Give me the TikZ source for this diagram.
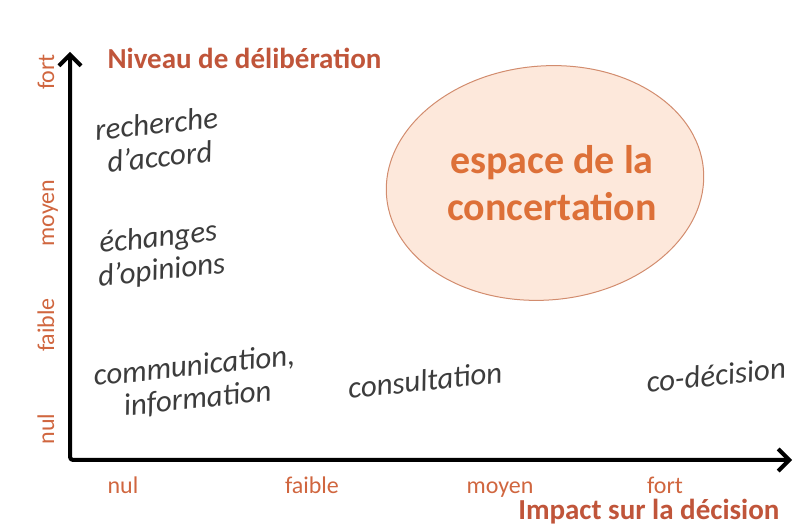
\documentclass[tikz,border=0pt]{standalone}
\usepackage{fontspec}
\setmainfont{Carlito}
\usetikzlibrary{arrows.meta,shapes.geometric}
\definecolor{titleorange}{HTML}{C0553A}
\definecolor{tickorange}{HTML}{D0663F}
\definecolor{bubbletext}{HTML}{DD7038}
\definecolor{bubblefill}{HTML}{FDE8DB}
\definecolor{bubbleline}{HTML}{D28C6E}
\definecolor{textgray}{HTML}{3C3C3C}
\begin{document}
\begin{tikzpicture}[x=1pt,y=1pt,>={Straight Barb[length=11pt,width=22pt,line width=4pt]},
    line join=round, line cap=round,
    axtitle/.style={text=titleorange,font=\fontsize{29}{29}\selectfont\bfseries},
    tick/.style={text=tickorange,font=\fontsize{24}{24}\selectfont,anchor=base},
    level/.style={text=textgray,font=\fontsize{31}{33}\selectfont\itshape,align=center,rotate=6}]
    \useasboundingbox (0,0) rectangle (796,530);
    % axes
    \coordinate (O) at (70,70);
    \coordinate (ytip) at (70,478);
    \coordinate (xtip) at (792,70);
    \draw[<->,line width=4pt,rounded corners=3pt] (ytip) -- (O) -- (xtip);
    \node[axtitle,anchor=west] (ytitle) at (104,472) {Niveau de délibération};
    \node[axtitle,anchor=east] (xtitle) at (783,18) {Impact sur la décision};
    % graduations
    \node[tick,rotate=90] (ynul) at (54,101) {nul};
    \node[tick,rotate=90] (yfaible) at (54,205) {faible};
    \node[tick,rotate=90] (ymoyen) at (54,317) {moyen};
    \node[tick,rotate=90] (yfort) at (54,458) {fort};
    \node[tick] (xnul) at (123,36) {nul};
    \node[tick] (xfaible) at (312,36) {faible};
    \node[tick] (xmoyen) at (500,36) {moyen};
    \node[tick] (xfort) at (665,36) {fort};
    % espace de la concertation
    \node[ellipse,draw=bubbleline,fill=bubblefill,line width=1pt,
        minimum width=318pt,minimum height=234pt,rotate=5] (espace) at (545,347) {};
    \node[text=bubbletext,font=\fontsize{40}{47}\selectfont\bfseries,align=center]
        (espacetxt) at (552,347) {espace de la\\concertation};
    % niveaux
    \node[level] (accord) at (158,390) {recherche\\d'accord};
    \node[level] (echanges) at (160,275) {échanges\\d'opinions};
    \node[level] (communication) at (196,147) {communication,\\information};
    \node[level] (consultation) at (425,150) {consultation};
    \node[level] (codecision) at (716,155) {co-décision};
\end{tikzpicture}
\end{document}
